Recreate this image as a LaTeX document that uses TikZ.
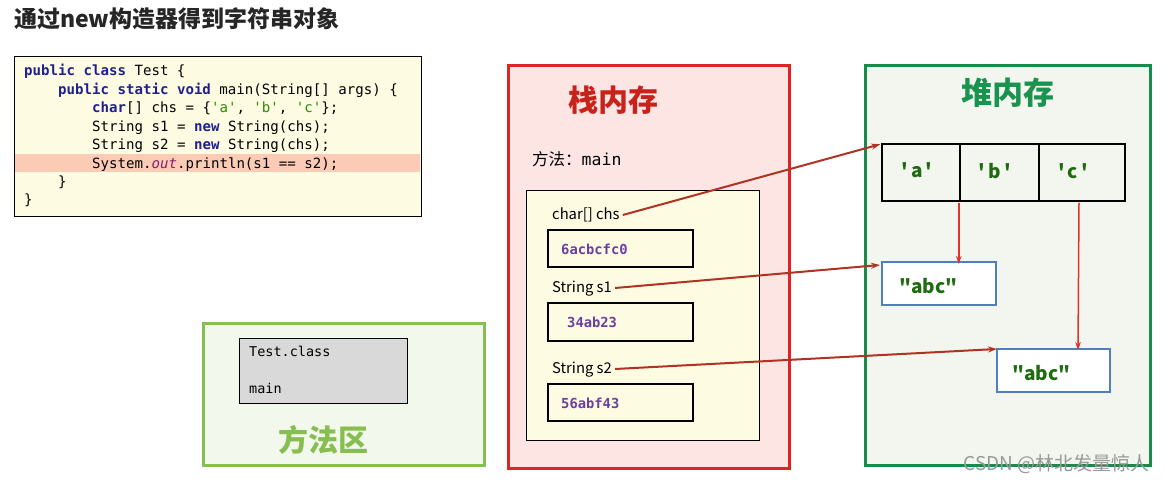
\documentclass[tikz,border=0pt]{standalone}
\usepackage{fontspec}
\usetikzlibrary{arrows.meta,calc}
\newfontfamily\cjk{Noto Sans CJK SC}
\newfontfamily\codefont{DejaVu Sans Mono}
\newcommand\sq{\char"27\relax}
\newcommand\dq{\char"22\relax}
\definecolor{kw}{HTML}{1F1F8F}
\definecolor{strg}{HTML}{2A8C00}
\definecolor{outc}{HTML}{8C1A6B}
\definecolor{codebg}{HTML}{FEFBE3}
\definecolor{hl}{HTML}{FBCBB5}
\definecolor{stackred}{HTML}{E02424}
\definecolor{stackbg}{HTML}{FDE5E4}
\definecolor{stacktitle}{HTML}{C8221A}
\definecolor{heapgreen}{HTML}{1A8A4A}
\definecolor{heapbg}{HTML}{F3F6EE}
\definecolor{heaptitle}{HTML}{1A9350}
\definecolor{chargreen}{HTML}{1F6B10}
\definecolor{abcblue}{HTML}{4F7FBF}
\definecolor{methgreen}{HTML}{86BE4F}
\definecolor{methbg}{HTML}{F3F8EC}
\definecolor{grayfill}{HTML}{D9D9D9}
\definecolor{addr}{HTML}{6B3FA0}
\definecolor{ptr}{HTML}{B03222}
\definecolor{vptr}{HTML}{E0342A}
\begin{document}
\begin{tikzpicture}[x=1pt,y=-1pt,
  box/.style={draw, rectangle, inner sep=0pt},
  codeline/.style={anchor=base west, inner sep=0pt, font=\codefont\fontsize{14.1}{16}\selectfont},
  lbl/.style={anchor=base west, inner sep=0pt, font=\cjk\fontsize{14.8}{16}\selectfont},
  addrtxt/.style={anchor=base west, inner sep=0pt, text=addr, font=\codefont\bfseries\fontsize{13.8}{15}\selectfont},
  celltxt/.style={inner sep=0pt, text=chargreen, font=\cjk\bfseries\fontsize{19}{21}\selectfont},
  ptrarrow/.style={draw=ptr, line width=2pt, -{Stealth[length=9pt,width=6pt]}},
  varrow/.style={draw=vptr, line width=1.5pt, -{Stealth[length=8pt,width=5.5pt]}},
  bigtitle/.style={inner sep=0pt, font=\cjk\bfseries\fontsize{30}{32}\selectfont}]
\useasboundingbox (0,0) rectangle (1165,484);
\fill[white] (0,0) rectangle (1165,484);

% title
\node[anchor=base west, inner sep=0pt, text=black!85, font=\cjk\bfseries\fontsize{23}{25}\selectfont] (title) at (14,28) {通过new构造器得到字符串对象};

% code box
\node[box, fill=codebg, line width=1pt, minimum width=407pt, minimum height=159pt] (code) at (217.5,136.5) {};
\node[fill=hl, inner sep=0pt, minimum width=405pt, minimum height=18pt] (hlrow) at (217.5,163) {};
\node[codeline] (l1) at (24,76) {\textcolor{kw}{\bfseries public class} Test \{};
\node[codeline] (l2) at (58,94.4) {\textcolor{kw}{\bfseries public static void} main(String[] args) \{};
\node[codeline] (l3) at (92,112.8) {\textcolor{kw}{\bfseries char}[] chs = \{\textcolor{strg}{\sq a\sq}, \textcolor{strg}{\sq b\sq}, \textcolor{strg}{\sq c\sq}\};};
\node[codeline] (l4) at (92,131.2) {String s1 = \textcolor{kw}{\bfseries new} String(chs);};
\node[codeline] (l5) at (92,149.6) {String s2 = \textcolor{kw}{\bfseries new} String(chs);};
\node[codeline] (l6) at (92,168) {System.\textcolor{outc}{\itshape out}.println(s1 == s2);};
\node[codeline] (l7) at (58,186.4) {\}};
\node[codeline] (l8) at (24,204.8) {\}};

% stack
\node[box, draw=stackred, fill=stackbg, line width=3pt, minimum width=281pt, minimum height=402pt] (stack) at (648.5,267) {};
\node[bigtitle, text=stacktitle] (stacktitle) at (613,100) {栈内存};
\node[anchor=base west, inner sep=0pt, font=\cjk\fontsize{16.5}{18}\selectfont] (method) at (532,165.5) {方法：{\codefont main}};
\node[box, fill=codebg, line width=0.8pt, minimum width=233pt, minimum height=250pt] (frame) at (642.5,315) {};
\node[lbl] (chs) at (552,219) {char[] chs};
\node[box, fill=codebg, line width=1.5pt, minimum width=145pt, minimum height=37pt] (v1) at (620.5,248.5) {};
\node[addrtxt] (a1) at (561,254.5) {6acbcfc0};
\node[lbl] (s1) at (552,292) {String s1};
\node[box, fill=codebg, line width=1.5pt, minimum width=145pt, minimum height=38pt] (v2) at (620.5,322) {};
\node[addrtxt] (a2) at (567,327.5) {34ab23};
\node[lbl] (s2) at (552,373) {String s2};
\node[box, fill=codebg, line width=1.5pt, minimum width=145pt, minimum height=37pt] (v3) at (620.5,402.5) {};
\node[addrtxt] (a3) at (561,408.5) {56abf43};

% heap
\node[box, draw=heapgreen, fill=heapbg, line width=3pt, minimum width=285pt, minimum height=399pt] (heap) at (1007.5,265.5) {};
\node[bigtitle, text=heaptitle, font=\cjk\bfseries\fontsize{31}{33}\selectfont] (heaptitle) at (1008,93) {堆内存};
\node[box, line width=1.5pt, minimum width=78pt, minimum height=57pt] (ca) at (921,172.5) {};
\node[box, line width=1.5pt, minimum width=79pt, minimum height=57pt] (cb) at (999.5,172.5) {};
\node[box, line width=1.5pt, minimum width=86pt, minimum height=57pt] (cc) at (1082,172.5) {};
\node[celltxt] (ta) at (917,170) {\sq\,a\,\sq};
\node[celltxt] (tb) at (995,171) {\sq\,b\,\sq};
\node[celltxt] (tc) at (1073,171) {\sq\,c\,\sq};
\node[box, draw=abcblue, fill=white, line width=2pt, minimum width=114pt, minimum height=43pt] (abc1) at (939,283.5) {};
\node[celltxt, anchor=west] (abct1) at (899,286) {\dq abc\dq};
\node[box, draw=abcblue, fill=white, line width=2pt, minimum width=113pt, minimum height=43pt] (abc2) at (1053.5,370.5) {};
\node[celltxt, anchor=west] (abct2) at (1012,373) {\dq abc\dq};

% method area
\node[box, draw=methgreen, fill=methbg, line width=3pt, minimum width=281pt, minimum height=142pt] (marea) at (343.5,394) {};
\node[box, fill=grayfill, line width=1pt, minimum width=168pt, minimum height=65pt] (cls) at (323,370.5) {};
\node[codeline, font=\codefont\fontsize{13.5}{15}\selectfont] (clsname) at (249,356.5) {Test.class};
\node[codeline, font=\codefont\fontsize{13.5}{15}\selectfont] (clsmain) at (249,393.5) {main};
\node[bigtitle, text=methgreen] (mtitle) at (323,440) {方法区};

% watermark
\node[anchor=base east, inner sep=0pt, text=black!40, font=\cjk\fontsize{19}{21}\selectfont] (wm) at (1150,470) {CSDN @林北发量惊人};

% connectors
\draw[ptrarrow] ($(chs.base east)+(3,-4)$) -- ($(ca.north west)+(-1,1)$);
\draw[ptrarrow] ($(s1.base east)+(3,-4)$) -- ($(abc1.north west)+(-1,4)$);
\draw[ptrarrow] ($(s2.base east)+(3,-4)$) -- ($(abc2.north west)+(1,1)$);
\draw[varrow] ($(ca.south east)+(-2,1)$) -- ($(ca.south east |- abc1.north)+(-2,3)$);
\draw[varrow] ($(cc.south)+(-3,1)$) -- ($(cc.south |- abc2.north)+(-4,2)$);
\end{tikzpicture}
\end{document}
